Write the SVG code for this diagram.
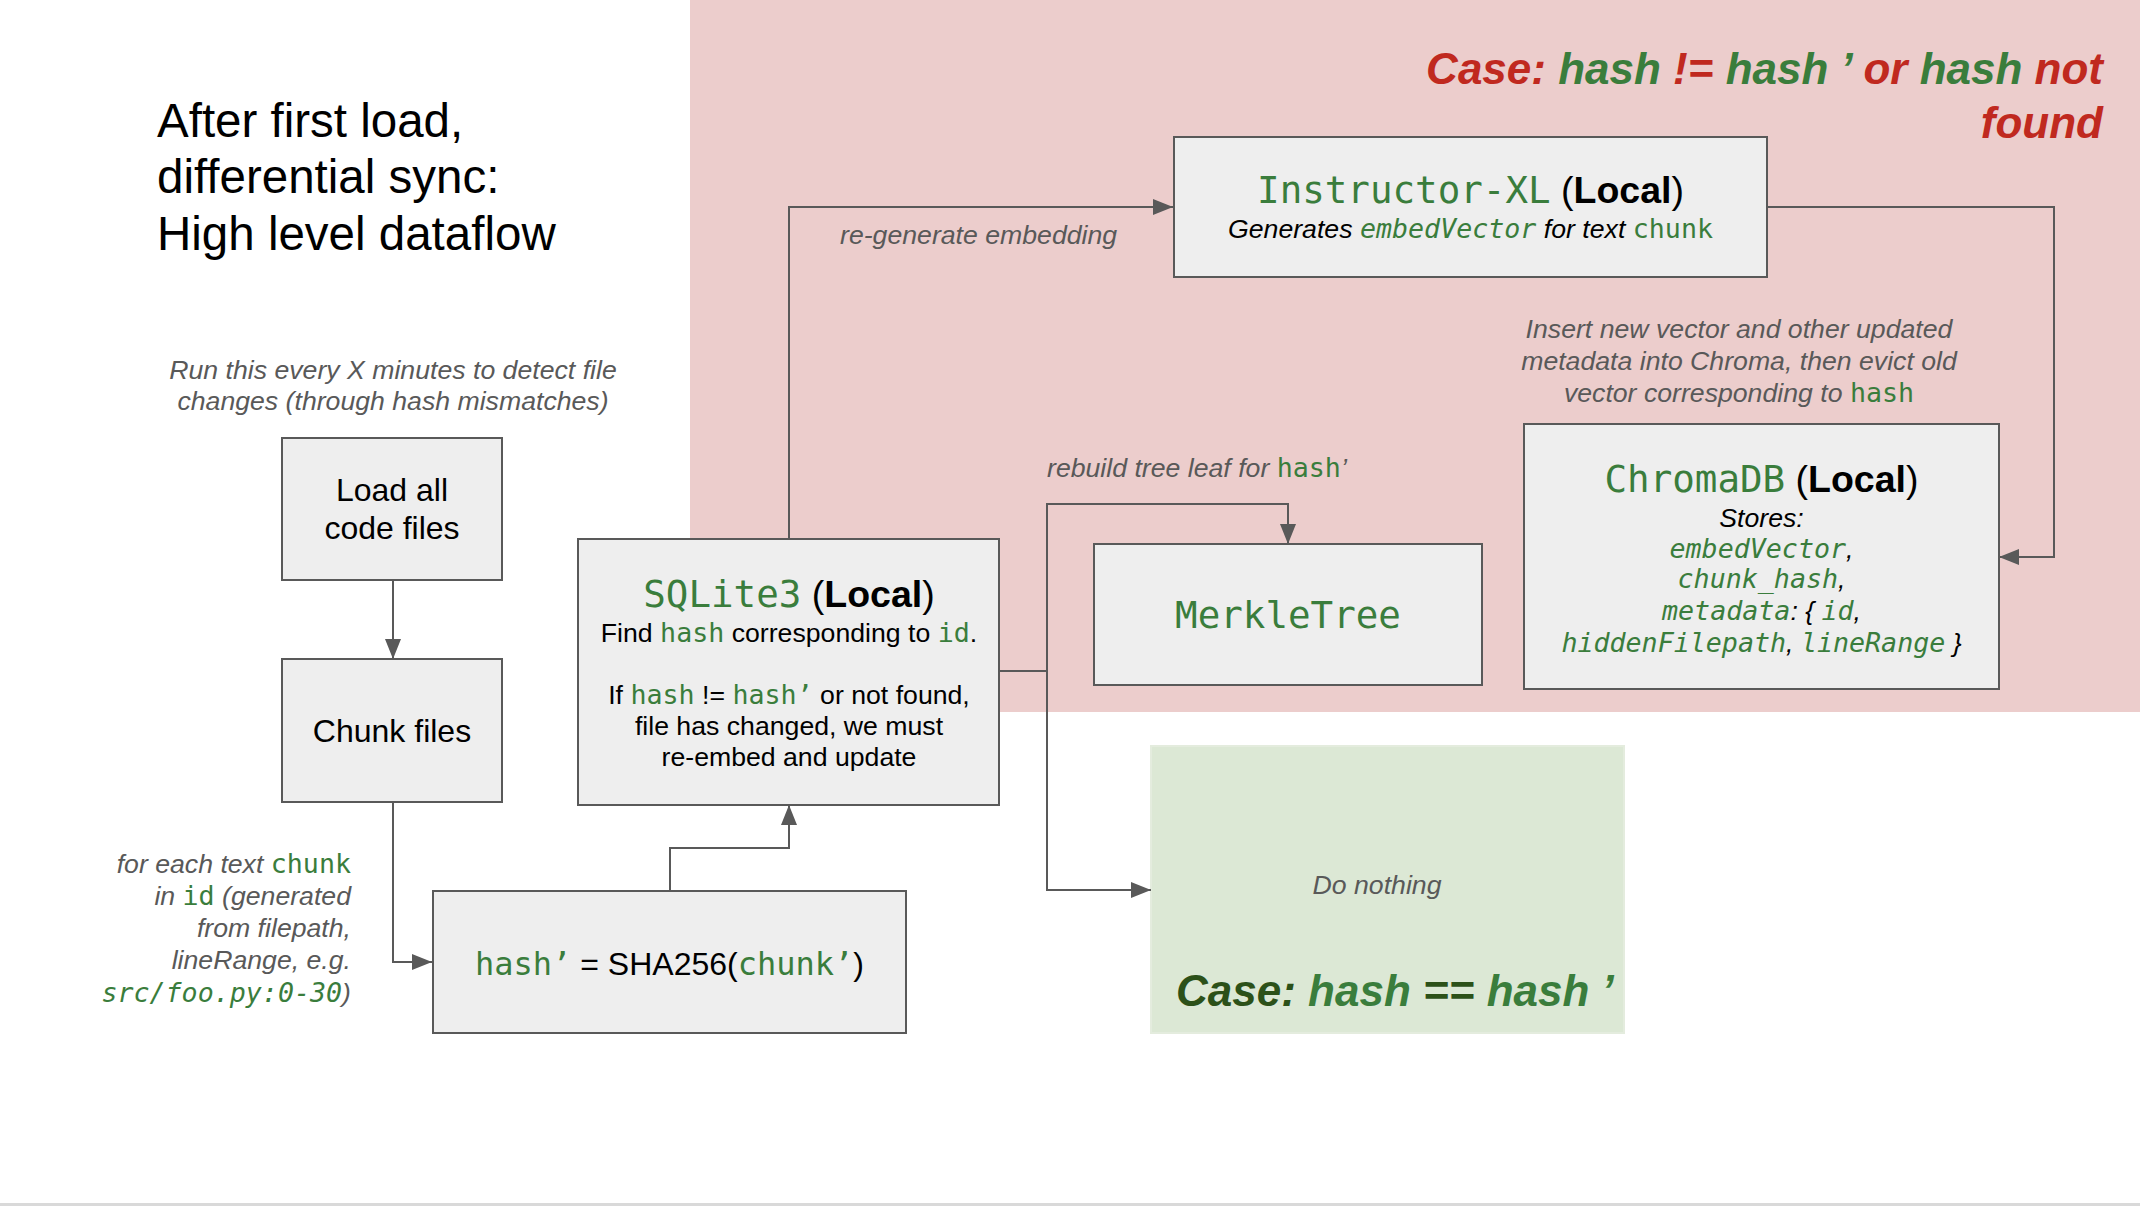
<svg xmlns="http://www.w3.org/2000/svg" width="2140" height="1206" viewBox="0 0 2140 1206">
<defs>
<marker id="arrow" viewBox="0 0 20 16" refX="20" refY="8" markerWidth="20" markerHeight="16" markerUnits="userSpaceOnUse" orient="auto">
<path d="M0,0 L20,8 L0,16 z" fill="#595959"/>
</marker>
</defs>
<style>
.box{fill:#eeeeee;stroke:#595959;stroke-width:2}
.conn{fill:none;stroke:#595959;stroke-width:2;marker-end:url(#arrow)}
.line{fill:none;stroke:#595959;stroke-width:2}
text{font-family:"Liberation Sans",Arial,sans-serif}
.mono{font-family:"DejaVu Sans Mono","Liberation Mono",monospace;fill:#3a7d3c;font-style:normal;font-weight:normal}
.it{font-style:italic}
.note{font-style:italic;font-size:26.67px;fill:#595959}
.body{font-size:26.67px;fill:#000}
.big{font-size:37.5px;fill:#000}
.case{font-size:44px;font-weight:bold;font-style:italic}
.red{fill:#c0291f}
.grn{fill:#3a7d3c}
.dgrn{fill:#2c5119}
</style>
<rect width="2140" height="1206" fill="#ffffff"/>
<rect id="region-changed" x="690" y="0" width="1450" height="712" fill="#eccdcc"/>
<rect id="region-same" x="1151" y="746" width="473" height="287" fill="#dce8d5" stroke="#e4ecde" stroke-width="2"/>
<rect x="0" y="1203" width="2140" height="3" fill="#d9d9d9"/>

<g id="title">
<text x="157" y="137" font-size="47.5" fill="#000">After first load,</text>
<text x="157" y="193" font-size="47.5" fill="#000">differential sync:</text>
<text x="157" y="250" font-size="47.5" fill="#000">High level dataflow</text>
</g>

<g id="case-changed-label">
<text x="2103" y="84" text-anchor="end" class="case"><tspan class="red">Case: </tspan><tspan class="grn">hash </tspan><tspan class="red">!= </tspan><tspan class="grn">hash ’ </tspan><tspan class="red">or </tspan><tspan class="grn">hash </tspan><tspan class="red">not</tspan></text>
<text x="2103" y="138" text-anchor="end" class="case red">found</text>
</g>

<g id="case-same-label">
<text x="1377" y="894" text-anchor="middle" class="note">Do nothing</text>
<text x="1176" y="1006" class="case"><tspan class="dgrn">Case: </tspan><tspan class="grn">hash </tspan><tspan class="dgrn">== </tspan><tspan class="grn">hash ’</tspan></text>
</g>

<g id="connectors">
<path class="conn" d="M393,580 V659"/>
<path class="conn" d="M393,802 V962 H432"/>
<path class="conn" d="M670,891 V848 H789 V805"/>
<path class="conn" d="M789,539 V207 H1173"/>
<path class="conn" d="M1767,207 H2054 V557 H1999"/>
<path class="conn" d="M999,671 H1047 V504 H1288 V544"/>
<path class="conn" d="M1047,671 V890 H1151"/>
<text x="840" y="244" class="note">re-generate embedding</text>
<text x="1047" y="477" class="note">rebuild tree leaf for <tspan class="mono">hash</tspan>’</text>
<text x="1739" y="338" text-anchor="middle" class="note">Insert new vector and other updated</text>
<text x="1739" y="370" text-anchor="middle" class="note">metadata into Chroma, then evict old</text>
<text x="1739" y="402" text-anchor="middle" class="note">vector corresponding to <tspan class="mono">hash</tspan></text>
<text x="351" y="873" text-anchor="end" class="note">for each text <tspan class="mono">chunk</tspan></text>
<text x="351" y="905" text-anchor="end" class="note">in <tspan class="mono">id</tspan> (generated</text>
<text x="351" y="937" text-anchor="end" class="note">from filepath,</text>
<text x="351" y="969" text-anchor="end" class="note">lineRange, e.g.</text>
<text x="351" y="1002" text-anchor="end" class="note"><tspan class="mono" font-style="italic" style="font-style:italic">src/foo.py:0-30</tspan>)</text>
</g>

<g id="note-run">
<text x="393" y="379" text-anchor="middle" class="note">Run this every X minutes to detect file</text>
<text x="393" y="410" text-anchor="middle" class="note">changes (through hash mismatches)</text>
</g>

<g id="node-load">
<rect class="box" x="282" y="438" width="220" height="142"/>
<text x="392" y="501" text-anchor="middle" font-size="32" fill="#000">Load all</text>
<text x="392" y="539" text-anchor="middle" font-size="32" fill="#000">code files</text>
</g>

<g id="node-chunk">
<rect class="box" x="282" y="659" width="220" height="143"/>
<text x="392" y="742" text-anchor="middle" font-size="32" fill="#000">Chunk files</text>
</g>

<g id="node-hash">
<rect class="box" x="433" y="891" width="473" height="142"/>
<text x="669.5" y="975" text-anchor="middle" font-size="32" fill="#000"><tspan class="mono">hash’</tspan> = SHA256(<tspan class="mono">chunk’</tspan>)</text>
</g>

<g id="node-sqlite">
<rect class="box" x="578" y="539" width="421" height="266"/>
<text x="789" y="607" text-anchor="middle" class="big"><tspan class="mono">SQLite3</tspan> (<tspan font-weight="bold">Local</tspan>)</text>
<text x="789" y="642" text-anchor="middle" class="body">Find <tspan class="mono">hash</tspan> corresponding to <tspan class="mono">id</tspan>.</text>
<text x="789" y="704" text-anchor="middle" class="body">If <tspan class="mono">hash</tspan> != <tspan class="mono">hash’</tspan> or not found,</text>
<text x="789" y="735" text-anchor="middle" class="body">file has changed, we must</text>
<text x="789" y="766" text-anchor="middle" class="body">re-embed and update</text>
</g>

<g id="node-instructor">
<rect class="box" x="1174" y="137" width="593" height="140"/>
<text x="1470.5" y="203" text-anchor="middle" class="big"><tspan class="mono">Instructor-XL</tspan> (<tspan font-weight="bold">Local</tspan>)</text>
<text x="1470.5" y="238" text-anchor="middle" class="body it">Generates <tspan class="mono" style="font-style:italic">embedVector</tspan> for text <tspan class="mono">chunk</tspan></text>
</g>

<g id="node-merkle">
<rect class="box" x="1094" y="544" width="388" height="141"/>
<text x="1288" y="628" text-anchor="middle" font-size="37.5" class="mono">MerkleTree</text>
</g>

<g id="node-chroma">
<rect class="box" x="1524" y="424" width="475" height="265"/>
<text x="1761.5" y="492" text-anchor="middle" class="big"><tspan class="mono">ChromaDB</tspan> (<tspan font-weight="bold">Local</tspan>)</text>
<text x="1761.5" y="527" text-anchor="middle" class="body it">Stores:</text>
<text x="1761.5" y="558" text-anchor="middle" class="body it"><tspan class="mono" style="font-style:italic">embedVector</tspan>,</text>
<text x="1761.5" y="588" text-anchor="middle" class="body it"><tspan class="mono" style="font-style:italic">chunk_hash</tspan>,</text>
<text x="1761.5" y="620" text-anchor="middle" class="body it"><tspan class="mono" style="font-style:italic">metadata</tspan>: { <tspan class="mono" style="font-style:italic">id</tspan>,</text>
<text x="1761.5" y="652" text-anchor="middle" class="body it"><tspan class="mono" style="font-style:italic">hiddenFilepath</tspan>, <tspan class="mono" style="font-style:italic">lineRange</tspan> }</text>
</g>
</svg>
